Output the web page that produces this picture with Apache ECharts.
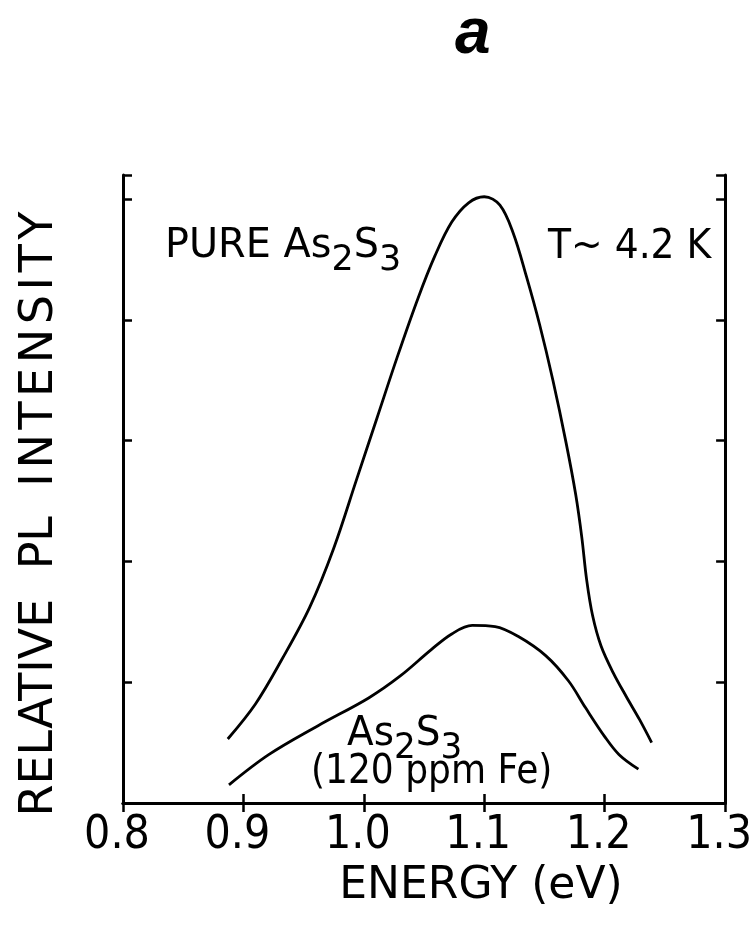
<!DOCTYPE html>
<html>
<head>
<meta charset="utf-8">
<script src="https://cdn.jsdelivr.net/npm/echarts@6/dist/echarts.min.js"></script>
<style>
html,body{margin:0;padding:0;background:#fff;}
#chart{width:755px;height:930px;}
</style>
</head>
<body>
<div id="chart"></div>
<script>
// ---- data ----
var energyTicks = ['0.8', '0.9', '1.0', '1.1', '1.2', '1.3'];
var energyPure = [0.887, 0.910, 0.932, 0.955, 0.975, 0.994, 1.011, 1.028, 1.045, 1.059, 1.073, 1.087, 1.100, 1.113, 1.124, 1.135, 1.146, 1.157, 1.168, 1.176, 1.181, 1.185, 1.190, 1.197, 1.207, 1.218, 1.229, 1.239];
var intensityPure = [0.53, 0.82, 1.19, 1.62, 2.11, 2.68, 3.19, 3.70, 4.18, 4.53, 4.81, 4.97, 5.02, 4.95, 4.72, 4.36, 3.96, 3.50, 2.98, 2.55, 2.20, 1.85, 1.55, 1.30, 1.08, 0.88, 0.69, 0.50];
var energyFe = [0.888, 0.921, 0.962, 1.004, 1.030, 1.056, 1.073, 1.090, 1.109, 1.128, 1.151, 1.170, 1.184, 1.200, 1.212, 1.228];
var intensityFe = [0.15, 0.40, 0.64, 0.87, 1.05, 1.27, 1.40, 1.47, 1.46, 1.38, 1.22, 1.01, 0.79, 0.55, 0.40, 0.28];

function pairs(xs, ys) { return xs.map(function (x, i) { return [x, ys[i]]; }); }

var FONT = "'DejaVu Sans'";
var NARROW = "'Liberation Sans Narrow', 'DejaVu Sans Condensed', 'DejaVu Sans'";
var HS = '\u200A';
var chart = echarts.init(document.getElementById('chart'), null, {renderer: 'canvas'});

var axisLine = {show: true, lineStyle: {color: '#000', width: 3}};
var tick = {show: true, inside: true, length: 9, lineStyle: {color: '#000', width: 2.5}};
var richSub = {
  n: {fontFamily: FONT, fontSize: 41, lineHeight: 53, verticalAlign: 'top'},
  s: {fontFamily: FONT, fontSize: 36, lineHeight: 36, verticalAlign: 'bottom'}
};

var option = {
  backgroundColor: '#fff',
  animation: false,
  grid: {left: 123, right: 18, top: 175, bottom: 127, containLabel: false},
  xAxis: [{
    type: 'value', min: 0.8, max: 1.3, interval: 0.1, position: 'bottom',
    axisLine: axisLine, axisTick: tick, splitLine: {show: false},
    axisLabel: {
      color: '#000', fontFamily: NARROW, fontSize: 46, margin: 10, padding: [0, 12, 0, 0],
      formatter: function (v) { var i = Math.round((v - 0.8) / 0.1); return energyTicks[i] || ''; }
    }
  }, {
    type: 'value', min: 0.8, max: 1.3, interval: 0.1, position: 'top',
    axisLine: axisLine, axisTick: tick, splitLine: {show: false}, axisLabel: {show: false}
  }],
  yAxis: [{
    type: 'value', min: 0, max: 5.2, interval: 1, position: 'left',
    axisLine: axisLine, axisTick: tick, splitLine: {show: false}, axisLabel: {show: false}
  }, {
    type: 'value', min: 0, max: 5.2, interval: 1, position: 'right',
    axisLine: axisLine, axisTick: tick, splitLine: {show: false}, axisLabel: {show: false}
  }],
  series: [{
    name: 'PURE As2S3', type: 'line', smooth: 0.35, showSymbol: false,
    lineStyle: {color: '#000', width: 2.8},
    data: pairs(energyPure, intensityPure)
  }, {
    name: 'As2S3 (120 ppm Fe)', type: 'line', smooth: 0.35, showSymbol: false,
    lineStyle: {color: '#000', width: 2.8},
    data: pairs(energyFe, intensityFe)
  }],
  graphic: [
    {type: 'text', left: 455, top: 3, style: {text: 'a', font: "italic bold 64px 'Liberation Sans'", fill: '#000'}},
    {type: 'text', x: 40, y: 514, rotation: Math.PI / 2,
      style: {text: 'RELATIVE  PL  ' + 'INTENSITY'.split('').join(HS), font: "46px " + FONT, fill: '#000', align: 'center', verticalAlign: 'middle'}},
    {type: 'text', x: 481, y: 887,
      style: {text: 'ENERGY (eV)', font: "44px " + FONT, fill: '#000', align: 'center', verticalAlign: 'middle'}},
    {type: 'text', x: 165, y: 226, scaleX: 0.97,
      style: {text: '{n|PURE As}{s|2}{n|S}{s|3}', rich: richSub, fill: '#000'}},
    {type: 'text', x: 548, y: 227, scaleX: 0.92,
      style: {text: 'T~ 4.2 K', font: "41px " + FONT, fill: '#000'}},
    {type: 'text', x: 347, y: 714, scaleX: 0.95,
      style: {text: '{n|As}{s|2}{n|S}{s|3}', rich: richSub, fill: '#000'}},
    {type: 'text', x: 311, y: 753, scaleX: 0.9,
      style: {text: '(120 ppm Fe)', font: "40px " + FONT, fill: '#000'}}
  ]
};
chart.setOption(option);
</script>
</body>
</html>
